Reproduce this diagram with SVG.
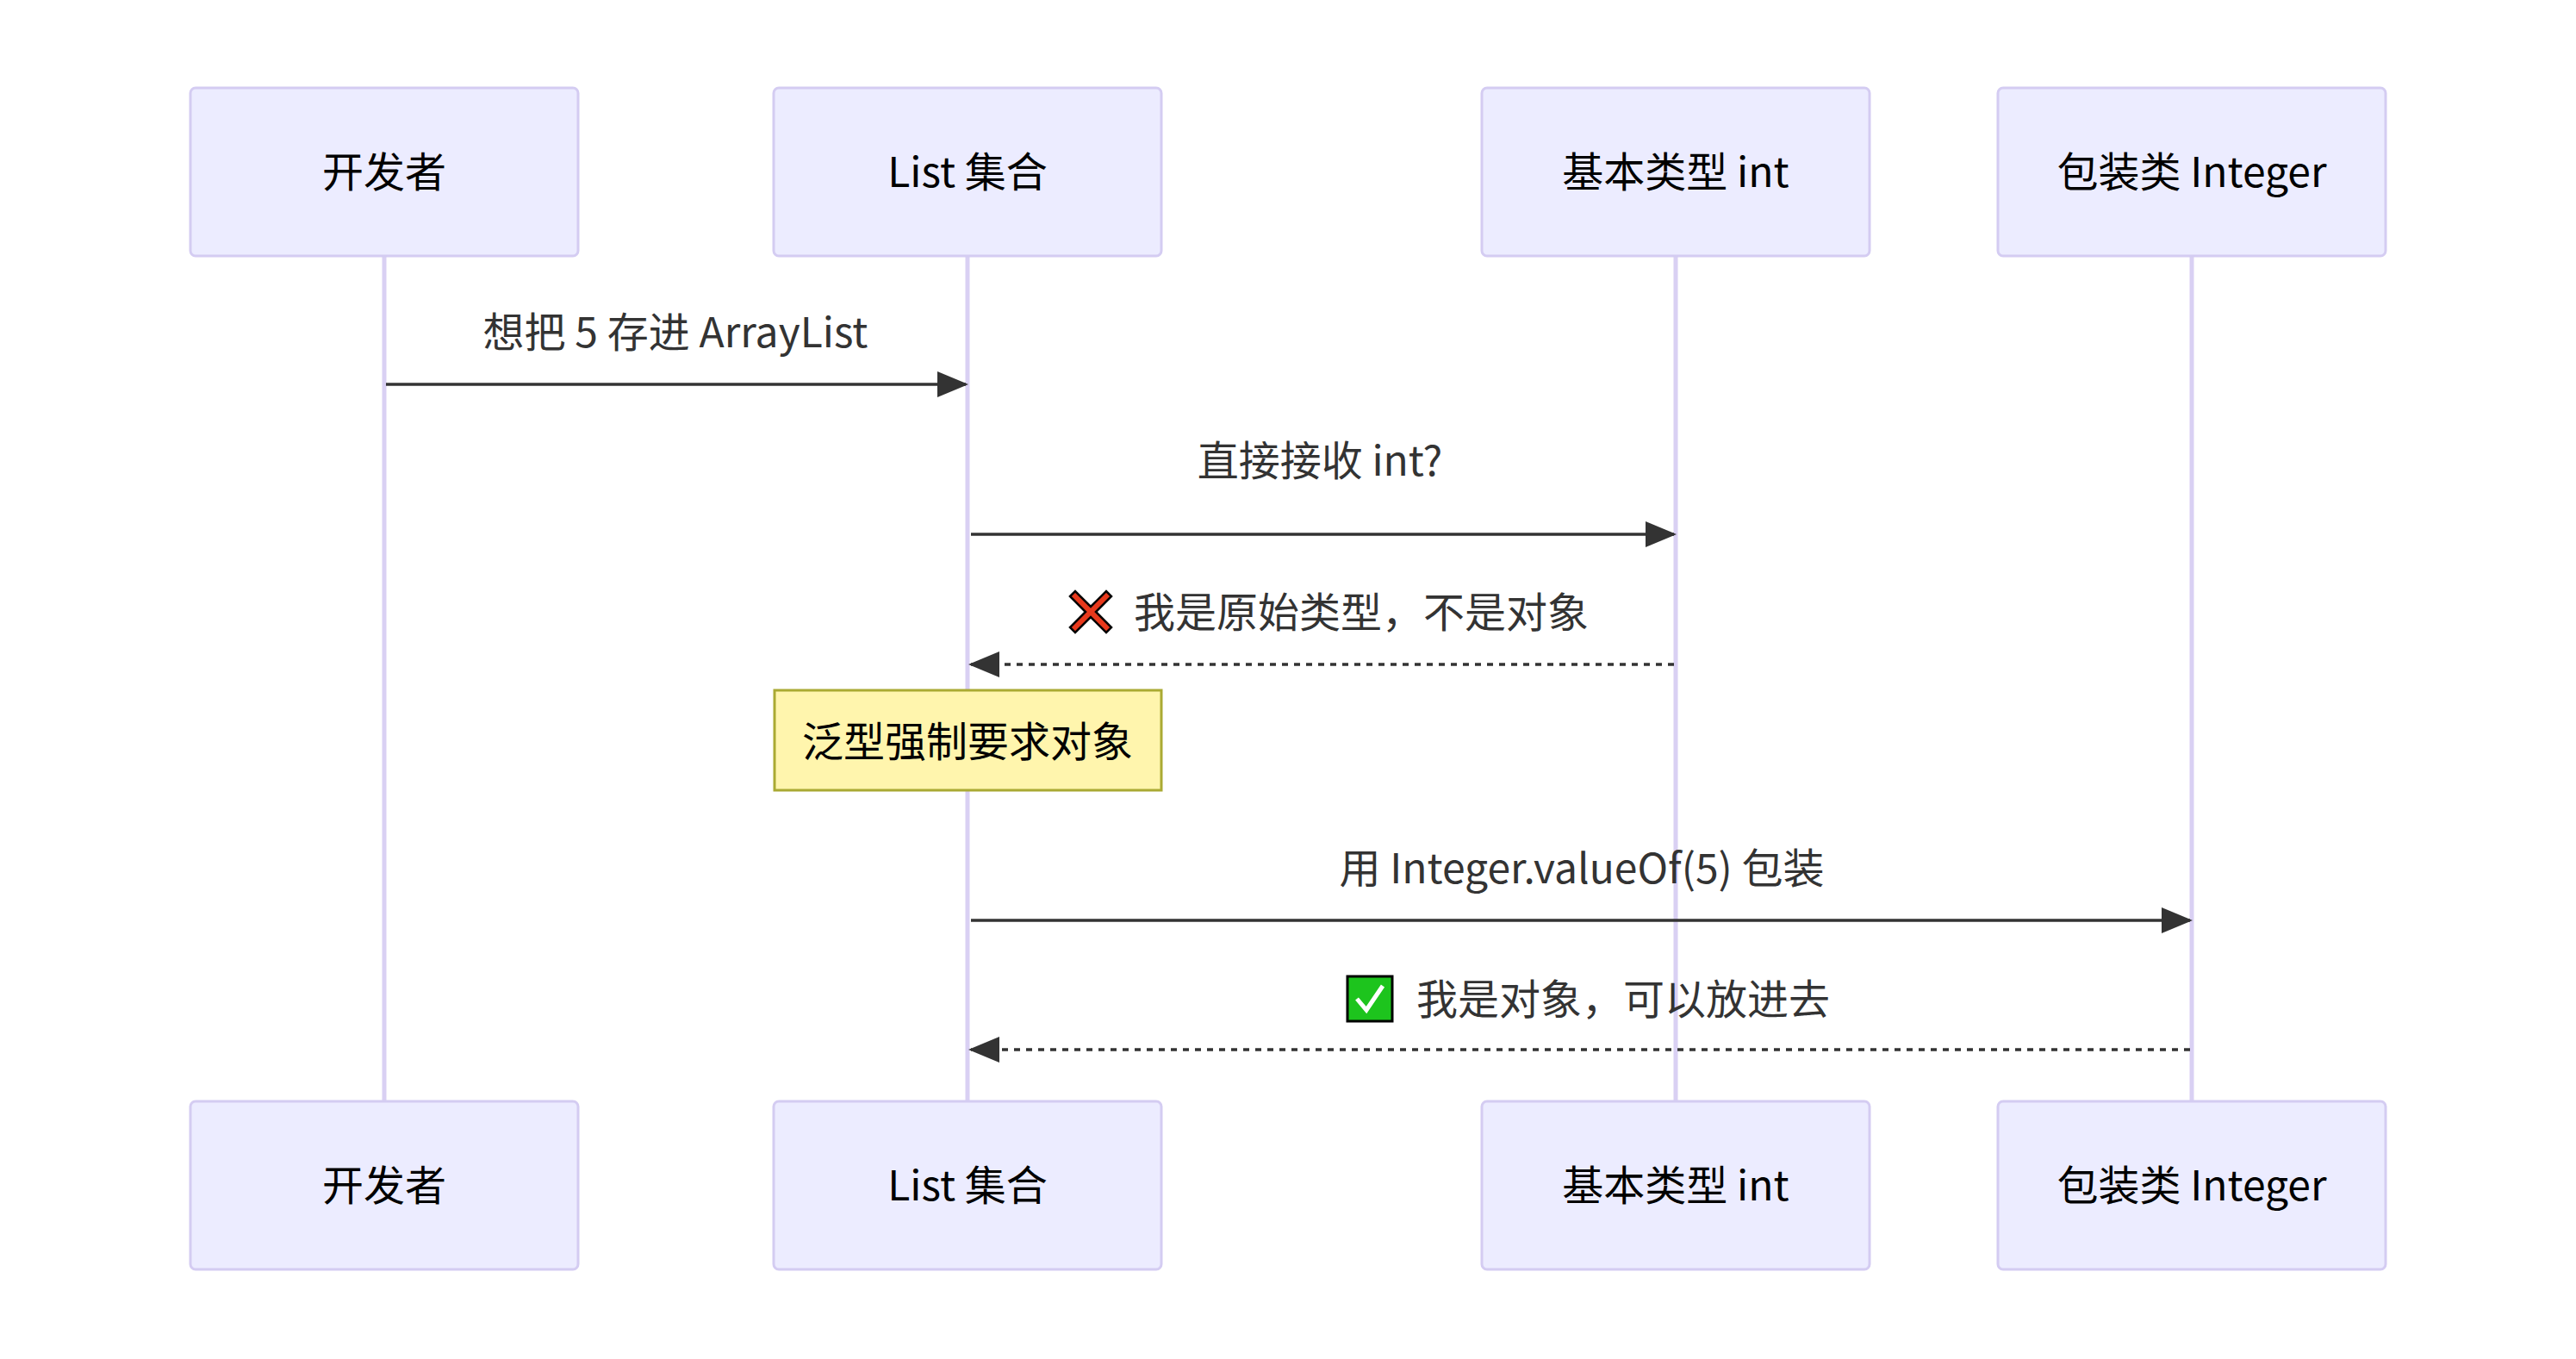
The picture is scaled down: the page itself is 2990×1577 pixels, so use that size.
<svg xmlns="http://www.w3.org/2000/svg" width="2990" height="1577" viewBox="0 0 2990 1577">
<style>
.actor{fill:#ECECFF;stroke:#D4CCF2;stroke-width:3}
.life{stroke:#D9D0F3;stroke-width:5}
.t{font-family:"Noto Sans CJK SC","Noto Sans",sans-serif;font-size:48px;fill:#333;dominant-baseline:central}
.c{text-anchor:middle}
.an{fill:#000}
.msg{stroke:#333;stroke-width:3.5;fill:none}
.dash{stroke-dasharray:7 7}
</style>
<defs>
<marker id="ah2" viewBox="0 0 12 12" refX="11" refY="6" markerWidth="36" markerHeight="36" markerUnits="userSpaceOnUse" orient="auto"><path d="M0,1 L12,6 L0,11 z" fill="#333"/></marker>
</defs>
<rect width="2990" height="1577" fill="#fff"/>
<g id="lifelines">
<line class="life" x1="446" y1="297" x2="446" y2="1278"/>
<line class="life" x1="1123" y1="297" x2="1123" y2="1278"/>
<line class="life" x1="1945" y1="297" x2="1945" y2="1278"/>
<line class="life" x1="2544" y1="297" x2="2544" y2="1278"/>
</g>
<g id="a1"><rect class="actor" x="221" y="102" width="450" height="195" rx="6"/><text class="t c an" x="446" y="196">开发者</text></g>
<g id="a2"><rect class="actor" x="898" y="102" width="450" height="195" rx="6"/><text class="t c an" x="1123" y="196">List 集合</text></g>
<g id="a3"><rect class="actor" x="1720" y="102" width="450" height="195" rx="6"/><text class="t c an" x="1945" y="196">基本类型 int</text></g>
<g id="a4"><rect class="actor" x="2319" y="102" width="450" height="195" rx="6"/><text class="t c an" x="2544" y="196">包装类 Integer</text></g>
<g id="b1"><rect class="actor" x="221" y="1278" width="450" height="195" rx="6"/><text class="t c an" x="446" y="1372">开发者</text></g>
<g id="b2"><rect class="actor" x="898" y="1278" width="450" height="195" rx="6"/><text class="t c an" x="1123" y="1372">List 集合</text></g>
<g id="b3"><rect class="actor" x="1720" y="1278" width="450" height="195" rx="6"/><text class="t c an" x="1945" y="1372">基本类型 int</text></g>
<g id="b4"><rect class="actor" x="2319" y="1278" width="450" height="195" rx="6"/><text class="t c an" x="2544" y="1372">包装类 Integer</text></g>
<g id="note"><rect x="899" y="801" width="449" height="116" fill="#FFF5AD" stroke="#AAAA33" stroke-width="3"/><text class="t c an" x="1123" y="857">泛型强制要求对象</text></g>
<g id="connectors">
<line class="msg" x1="448" y1="446" x2="1121" y2="446" marker-end="url(#ah2)"/>
<line class="msg" x1="1127" y1="620" x2="1943" y2="620" marker-end="url(#ah2)"/>
<line class="msg dash" x1="1943" y1="771" x2="1127" y2="771" marker-end="url(#ah2)"/>
<line class="msg" x1="1127" y1="1068" x2="2542" y2="1068" marker-end="url(#ah2)"/>
<line class="msg dash" x1="2542" y1="1218" x2="1127" y2="1218" marker-end="url(#ah2)"/>
</g>
<g id="labels">
<text class="t c" x="784" y="382">想把 5 存进 ArrayList</text>
<text class="t c" x="1532" y="531">直接接收 int?</text>
<path d="M1242,692 L1248,686 L1266,704 L1284,686 L1290,692 L1272,710 L1290,728 L1284,734 L1266,716 L1248,734 L1242,728 L1260,710 z" fill="#E8391C" stroke="#000" stroke-width="2.5"/>
<text class="t" x="1316" y="707">我是原始类型，不是对象</text>
<text class="t c" x="1836" y="1004">用 Integer.valueOf(5) 包装</text>
<rect x="1564" y="1133" width="52" height="52" fill="#1DC41D" stroke="#000" stroke-width="3"/>
<path d="M1575,1159 L1586,1172 L1605,1144" fill="none" stroke="#fff" stroke-width="5"/>
<text class="t" x="1644" y="1156">我是对象，可以放进去</text>
</g>
</svg>
